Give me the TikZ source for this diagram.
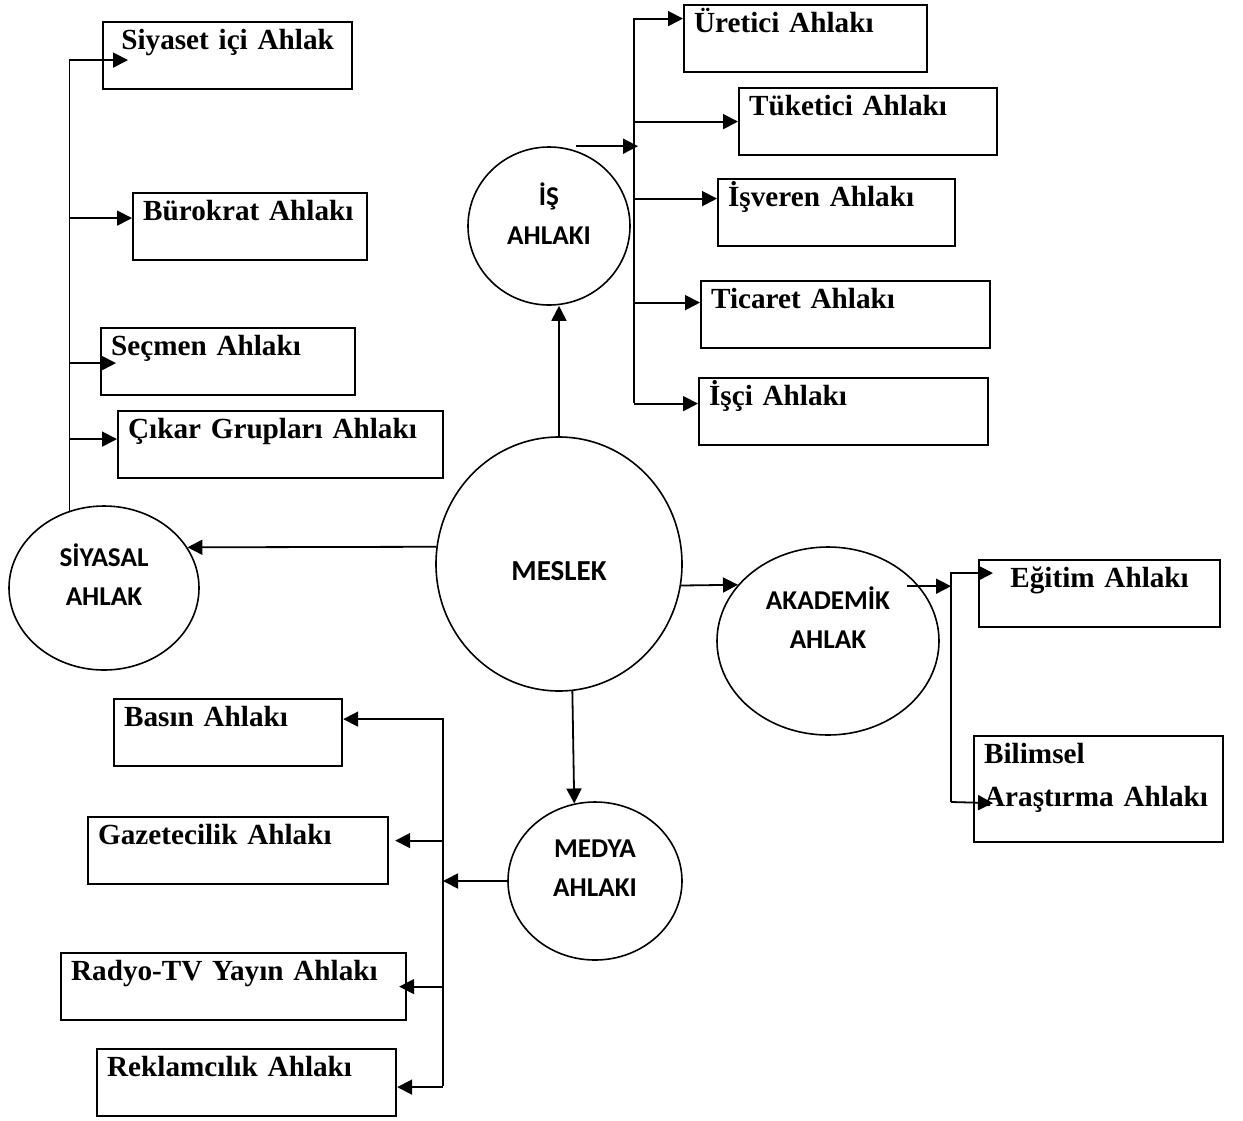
\documentclass[tikz,border=0pt]{standalone}
\usepackage{fontspec}
\setmainfont{Liberation Serif}
\newfontfamily\calibri{Carlito}
\usetikzlibrary{shapes.geometric,arrows.meta}
\newcommand{\lift}[2]{\raisebox{#1}[0pt][0pt]{\begin{tabular}{@{}c@{}}#2\end{tabular}}}

\begin{document}
\begin{tikzpicture}[x=0.5pt,y=-0.5pt,
  kutu/.style={draw,line width=1.1pt,anchor=north west,inner xsep=5pt,inner ysep=0pt,
    text height=13.5pt,text depth=20pt,text width=#1,align=left,
    font=\fontsize{14.6}{17.5}\selectfont\bfseries},
  daire/.style={draw,ellipse,line width=0.8pt,inner sep=0pt,
    font=\calibri\fontsize{13.6}{19.5}\selectfont\bfseries},
  ok/.style={line width=0.9pt,-{Triangle[length=7.5pt,width=7.5pt]}}]
  \useasboundingbox (0,0) rectangle (1243,1120);

  \node[daire,minimum width=123pt,minimum height=127pt,
    font=\calibri\fontsize{14.5}{19.5}\selectfont\bfseries] (meslek) at (559,564) {\lift{-8pt}{MESLEK}};
  \node[daire,minimum width=95pt,minimum height=82pt] (siyasal) at (104,588) {\lift{1.25pt}{SİYASAL\\AHLAK}};
  \node[daire,minimum width=81pt,minimum height=79pt] (is) at (549,226) {\lift{0.75pt}{İŞ\\AHLAKI}};
  \node[daire,minimum width=111pt,minimum height=94pt] (akademik) at (828,641) {\lift{6.5pt}{AKADEMİK\\AHLAK}};
  \node[daire,minimum width=87pt,minimum height=79pt] (medya) at (595,881) {\lift{2.5pt}{MEDYA\\AHLAKI}};

  \node[kutu=114.5pt,align=center] (siyaset) at (102,21) {Siyaset içi Ahlak};
  \node[kutu=107pt] (burokrat) at (132,192) {Bürokrat Ahlakı};
  \node[kutu=117pt] (secmen) at (100,327) {Seçmen Ahlakı};
  \node[kutu=152.5pt] (cikar) at (117,410) {Çıkar Grupları Ahlakı};

  \node[kutu=111.5pt] (uretici) at (683,4) {Üretici Ahlakı};
  \node[kutu=119pt] (tuketici) at (738,87) {Tüketici Ahlakı};
  \node[kutu=108.5pt] (isveren) at (717,178) {İşveren Ahlakı};
  \node[kutu=134.5pt] (ticaret) at (700,280) {Ticaret Ahlakı};
  \node[kutu=134.5pt] (isci) at (698,377) {İşçi Ahlakı};

  \node[kutu=110.5pt,align=center] (egitim) at (978,559) {Eğitim Ahlakı};
  \node[kutu=114.5pt,text depth=39.5pt] (bilimsel) at (973,735) {Bilimsel\\[4pt]Araştırma Ahlakı};

  \node[kutu=104pt] (basin) at (113,698) {Basın Ahlakı};
  \node[kutu=140pt] (gazete) at (87,816) {Gazetecilik Ahlakı};
  \node[kutu=162.5pt] (radyo) at (60,952) {Radyo-TV Yayın Ahlakı};
  \node[kutu=139.5pt] (reklam) at (96,1048) {Reklamcılık Ahlakı};

  \draw[ok] (meslek.172) -- (siyasal.26);
  \draw[ok] (meslek.north) -- (meslek.north |- is.south);
  \draw[ok] (meslek.-10) -- (akademik.148);
  \draw[ok] (meslek.-84) -- (medya.105);

  \coordinate (s1) at ([xshift=13pt,yshift=-2.25pt]siyaset.west);
  \coordinate (s2) at ([yshift=4.25pt]burokrat.west);
  \coordinate (s3) at ([xshift=8pt,yshift=-0.75pt]secmen.west);
  \coordinate (s4) at ([yshift=2.75pt]cikar.west);
  \draw[ok] (siyasal.114) |- (s1);
  \foreach \p in {s2,s3,s4} \draw[ok] (siyasal.114 |- \p) -- (\p);

  \coordinate (isalt) at (634,403);
  \coordinate (isust) at ([xshift=13.5pt]is.north);
  \coordinate (i1) at ([yshift=10pt]uretici.west);
  \coordinate (i2) at (tuketici.west);
  \coordinate (i3) at ([yshift=7pt]isveren.west);
  \coordinate (i4) at ([yshift=6pt]ticaret.west);
  \coordinate (i5) at ([yshift=4pt]isci.west);
  \draw[ok] (isalt) |- (i1);
  \foreach \p in {i2,i3,i4,i5} \draw[ok] (isalt |- \p) -- (\p);
  \draw[ok] (isust) -- ([xshift=2pt]isust -| isalt);

  \coordinate (akalt) at (951,802);
  \coordinate (akust) at ([xshift=-6pt]akademik.31);
  \coordinate (a1) at ([xshift=7.5pt,yshift=10.25pt]egitim.west);
  \coordinate (a2) at ([xshift=10pt,yshift=-7pt]bilimsel.west);
  \draw[ok] (akalt) |- (a1);
  \draw[ok] (akalt) -- (a2);
  \draw[ok] (akust) -- (akust -| akalt);

  \coordinate (malt) at (443,1086);
  \coordinate (m1) at ([yshift=6.75pt]basin.east);
  \coordinate (m2) at ([xshift=3pt,yshift=5pt]gazete.east);
  \coordinate (m3) at ([xshift=-4pt]radyo.east);
  \coordinate (m4) at ([yshift=-2.25pt]reklam.east);
  \draw[ok] (malt) |- (m1);
  \foreach \p in {m2,m3,m4} \draw[ok] (malt |- \p) -- (\p);
  \draw[ok] (medya.west) -- (medya.west -| malt);
\end{tikzpicture}
\end{document}
